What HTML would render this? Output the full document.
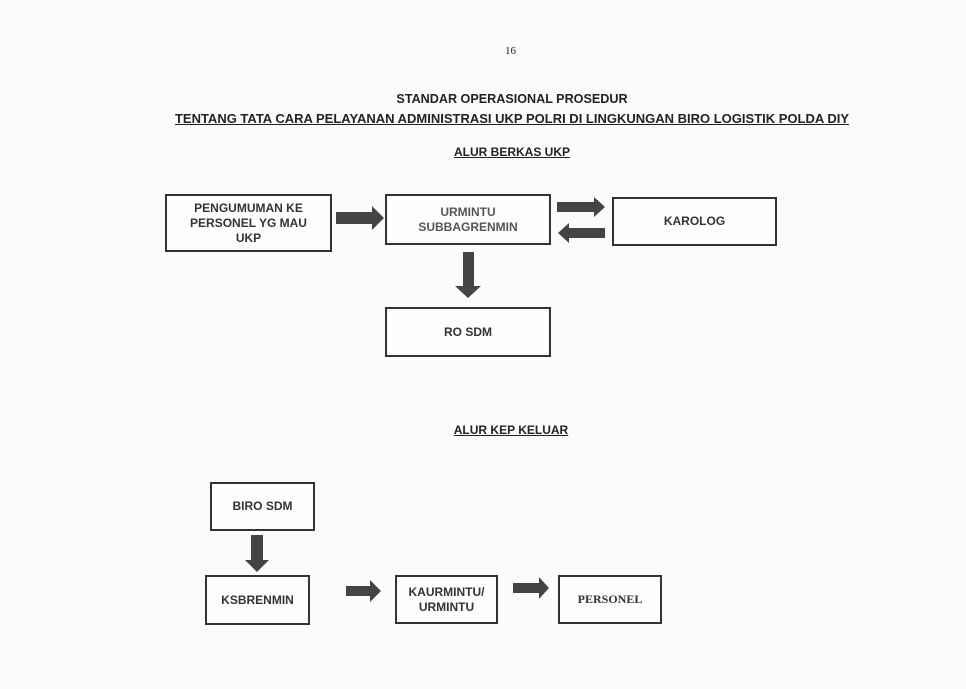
<!DOCTYPE html>
<html><head><style>
body{margin:0;width:966px;height:689px;background:#fbfbfb;position:relative;font-family:"Liberation Sans",Arial,sans-serif;overflow:hidden}
.t{position:absolute;white-space:nowrap;font-weight:bold;font-size:12px;color:#222}
.b{position:absolute;border:2px solid #333;box-sizing:border-box;display:flex;align-items:center;justify-content:center;text-align:center;font-weight:bold;font-size:12px;color:#333;line-height:15px;background:#fdfdfd}
svg{position:absolute;left:0;top:0}
</style></head><body>
<div class="t" style="left:505px;top:45px;font-family:'Liberation Serif',serif;font-weight:normal;font-size:11px">16</div>
<div class="t" style="left:0;width:1024px;text-align:center;top:92px;font-size:12.6px">STANDAR OPERASIONAL PROSEDUR</div>
<div class="t" style="left:112px;width:800px;text-align:center;top:111px;text-decoration:underline;font-size:13px">TENTANG TATA CARA PELAYANAN ADMINISTRASI UKP POLRI  DI LINGKUNGAN BIRO LOGISTIK POLDA DIY</div>
<div class="t" style="left:0;width:1024px;text-align:center;top:145px;text-decoration:underline">ALUR BERKAS UKP</div>
<div class="t" style="left:450px;width:122px;text-align:center;top:423px;text-decoration:underline">ALUR KEP KELUAR</div>

<div class="b" style="left:165px;top:194px;width:167px;height:58px">PENGUMUMAN KE<br>PERSONEL YG MAU<br>UKP</div>
<div class="b" style="left:385px;top:194px;width:166px;height:51px;color:#555">URMINTU<br>SUBBAGRENMIN</div>
<div class="b" style="left:612px;top:197px;width:165px;height:49px">KAROLOG</div>
<div class="b" style="left:385px;top:307px;width:166px;height:50px">RO SDM</div>

<div class="b" style="left:210px;top:482px;width:105px;height:49px">BIRO SDM</div>
<div class="b" style="left:205px;top:575px;width:105px;height:50px">KSBRENMIN</div>
<div class="b" style="left:395px;top:575px;width:103px;height:49px">KAURMINTU/<br>URMINTU</div>
<div class="b" style="left:558px;top:575px;width:104px;height:49px;font-family:'Liberation Serif',serif;font-size:12px">PERSONEL</div>

<svg width="966" height="689">
<g fill="#444">
<polygon points="336,212 372,212 372,206 384,218 372,230 372,224 336,224"/>
<polygon points="557,202 594,202 594,197 605,207 594,217 594,212 557,212"/>
<polygon points="605,228 569,228 569,223 558,233 569,243 569,238 605,238"/>
<polygon points="463,252 474,252 474,286 481,286 468,298 455,286 463,286"/>
<polygon points="251,535 263,535 263,560 269,560 257,572 245,560 251,560"/>
<polygon points="346,586 370,586 370,580 381,591 370,602 370,596 346,596"/>
<polygon points="513,583 539,583 539,577 549,588 539,599 539,593 513,593"/>
</g>
</svg>
</body></html>
